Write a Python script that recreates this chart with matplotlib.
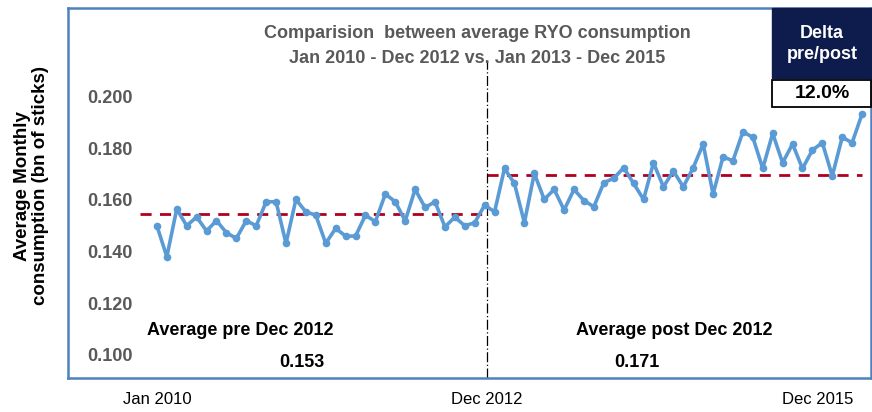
import matplotlib
matplotlib.use("Agg")
import matplotlib.pyplot as plt
from matplotlib.patches import Rectangle
import numpy as np

# monthly RYO consumption, Jan 2010 .. Dec 2015 (bn of sticks)
consumption = [
    0.150, 0.138, 0.1565, 0.150, 0.1534, 0.148, 0.152, 0.1473, 0.1451, 0.152,
    0.150, 0.1593, 0.1593, 0.1432, 0.1602, 0.1554, 0.1541, 0.1432, 0.149, 0.146,
    0.146, 0.1541, 0.1516, 0.1623, 0.1593, 0.1519, 0.1641, 0.1571, 0.1593, 0.1496,
    0.1533, 0.150, 0.1512, 0.158, 0.1554, 0.1722, 0.1664, 0.1512, 0.1703, 0.1602,
    0.1641, 0.1561, 0.1641, 0.1597, 0.1574, 0.1667, 0.1684, 0.1725, 0.1664, 0.1602,
    0.1744, 0.1651, 0.1712, 0.1651, 0.1725, 0.1817, 0.1623, 0.1767, 0.1752, 0.1864,
    0.1843, 0.1722, 0.1858, 0.1744, 0.1817, 0.1722, 0.1793, 0.1822, 0.1693, 0.1843,
    0.1822, 0.1933,
]
months = np.arange(len(consumption))

pre_level = 0.1547
post_level = 0.1698
pre_label = "0.153"
post_label = "0.171"
delta_label = "12.0%"

yticks = [0.100, 0.120, 0.140, 0.160, 0.180, 0.200]
xtick_pos = [0, 33.2, 66.5]
xtick_labels = ["Jan 2010", "Dec 2012", "Dec 2015"]
split = 33.2

narrow = ["Liberation Sans Narrow", "Liberation Sans", "DejaVu Sans"]
arial = ["Liberation Sans", "DejaVu Sans"]

fig = plt.figure(figsize=(8.72, 4.12), dpi=100)
ax = fig.add_axes([68 / 872, 1 - 378 / 412, (872 - 69) / 872, 370 / 412])

ymin, ymax = 0.0910, 0.2344
ax.set_xlim(-8.95, 71.9)
ax.set_ylim(ymin, ymax)

# averages and split marker
ax.plot([-1.7, split], [pre_level, pre_level], color="#b0001e", lw=2, ls=(0, (4, 3)))
ax.plot([split, 71], [post_level, post_level], color="#b0001e", lw=2, ls=(0, (4, 3)))
ax.axvline(split, ymin=0, ymax=(378 - 62) / 370,
           color="black", lw=0.9, ls=(0, (8, 2, 1, 2)))

ax.plot(months, consumption, color="#5b9bd5", lw=2.6, marker="o", ms=5.5,
        markeredgewidth=0)

for s in ax.spines.values():
    s.set_color("#4f81bd")
    s.set_linewidth(1.8)

ax.set_yticks(yticks)
ax.set_yticklabels([f"{v:.3f}" for v in yticks])
ax.tick_params(axis="y", length=0, pad=-14, labelsize=13, labelcolor="#595959")
for lab in ax.get_yticklabels():
    lab.set_horizontalalignment("left")
    lab.set_fontweight("bold")
    lab.set_family(narrow)

ax.set_xticks(xtick_pos)
ax.set_xticklabels(xtick_labels)
ax.tick_params(axis="x", length=0, pad=10, labelsize=12, labelcolor="black")
for lab in ax.get_xticklabels():
    lab.set_family(arial)

ax.set_ylabel("Average Monthly\nconsumption (bn of sticks)", fontsize=13.5,
              fontweight="bold", family=arial, linespacing=1.05)
ax.yaxis.set_label_coords(-19 / 803, 0.52)

# title
ax.text(0.51, 1 - 38 / 370, "Comparision  between average RYO consumption\n"
        "Jan 2010 - Dec 2012 vs. Jan 2013 - Dec 2015",
        transform=ax.transAxes, ha="center", va="center", fontsize=13,
        fontweight="bold", color="#595959", family=narrow, linespacing=1.65)

# period averages
ax.text(8.4, 0.1096, "Average pre Dec 2012", ha="center", va="center",
        fontsize=13, fontweight="bold", family=arial)
ax.text(14.6, 0.0972, pre_label, ha="center", va="center",
        fontsize=13, fontweight="bold", family=arial)
ax.text(52.1, 0.1096, "Average post Dec 2012", ha="center", va="center",
        fontsize=13, fontweight="bold", family=arial)
ax.text(48.3, 0.0972, post_label, ha="center", va="center",
        fontsize=13, fontweight="bold", family=arial)

# delta box (figure pixels)
def px(x, y):
    return x / 872, 1 - y / 412

x0, y0 = px(772, 78)
fig.patches.append(Rectangle((x0, y0), 100 / 872, 70 / 412, transform=fig.transFigure,
                             facecolor="#0e1b4d", edgecolor="#0e1b4d", zorder=5))
x1, y1 = px(772, 107)
fig.patches.append(Rectangle((x1, y1), 99 / 872, 27 / 412, transform=fig.transFigure,
                             facecolor="white", edgecolor="black", lw=1.3, zorder=5))
fig.text(*px(822, 44), "Delta\npre/post", ha="center", va="center", color="white",
         fontsize=13, fontweight="bold", family=narrow, linespacing=1.3, zorder=6)
fig.text(*px(822, 93), delta_label, ha="center", va="center", color="black",
         fontsize=14, fontweight="bold", family=narrow, zorder=6)

fig.savefig("out.png", dpi=100)
